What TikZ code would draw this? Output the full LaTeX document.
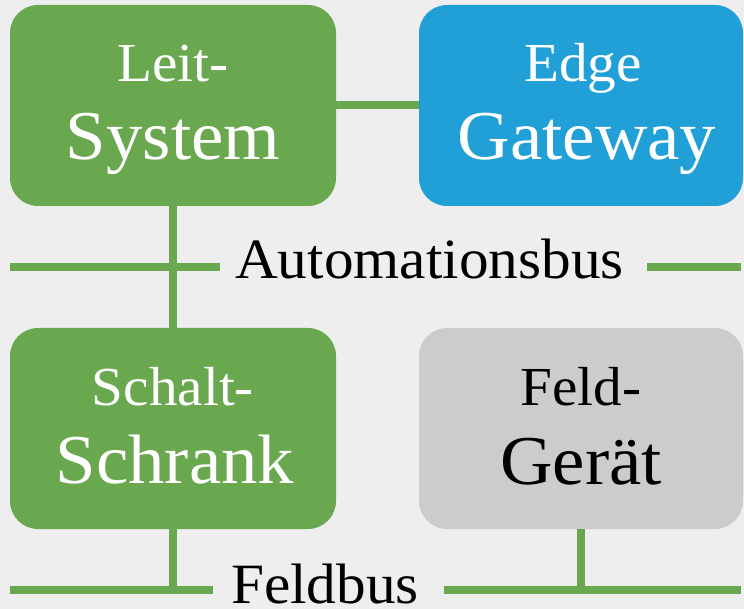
\documentclass[tikz,border=0pt]{standalone}
\usepackage{fontspec}
\setmainfont[FakeStretch=1.04]{Liberation Serif}
\definecolor{bg}{HTML}{EEEEEE}
\definecolor{grn}{HTML}{6AA84F}
\definecolor{blu}{HTML}{21A0D8}
\definecolor{gry}{HTML}{CCCCCC}
\tikzset{
  boxnode/.style={rounded corners=28pt, minimum width=326pt, minimum height=201pt, inner sep=0pt, draw=none},
  busline/.style={draw=grn, line width=8pt},
  toptext/.style={anchor=base, font=\fontsize{55}{55}\selectfont, inner sep=0pt},
  bigtext/.style={anchor=base, font=\fontsize{70}{70}\selectfont, inner sep=0pt},
  bustext/.style={anchor=base, font=\fontsize{57}{57}\selectfont, inner sep=0pt, text=black}
}
\begin{document}
\begin{tikzpicture}[x=1pt,y=-1pt]
\fill[bg] (0,0) rectangle (744,609);
\useasboundingbox (0,0) rectangle (744,609);
% boxes
\node[boxnode, fill=grn] (b1) at (173,105.5) {};
\node[boxnode, fill=blu, minimum width=324pt] (b2) at (581,105.5) {};
\node[boxnode, fill=grn] (b3) at (173,428.5) {};
\node[boxnode, fill=gry, minimum width=324pt] (b4) at (581,428.5) {};
% bus coordinates
\coordinate (abL) at (10,267);
\coordinate (abM) at (220,267);
\coordinate (abN) at (647,267);
\coordinate (abR) at (741,267);
\coordinate (fbL) at (10,590);
\coordinate (fbM) at (213,590);
\coordinate (fbN) at (444,590);
\coordinate (fbR) at (741,590);
\coordinate (fb1) at (173,590);
\coordinate (fb2) at (581,590);
% connectors
\draw[busline] (b1.east) -- (b2.west);
\draw[busline] (b1.south) -- (b3.north);
\draw[busline] (abL) -- (abM);
\draw[busline] (abN) -- (abR);
\draw[busline] (fbL) -- (fbM);
\draw[busline] (fbN) -- (fbR);
\draw[busline] (b3.south) -- (fb1);
\draw[busline] (b4.south) -- (fb2);
% texts
\node[toptext, text=white] (t1a) at (173,82) {Leit-};
\node[bigtext, text=white] (t1b) at (173,160) {System};
\node[toptext, text=white] (t2a) at (583,82) {Edge};
\node[bigtext, text=white] (t2b) at (587,160) {Gateway};
\node[toptext, text=white] (t3a) at (173,405) {Schalt-};
\node[bigtext, text=white] (t3b) at (175,483) {Schrank};
\node[toptext, text=black] (t4a) at (581,405) {Feld-};
\node[bigtext, text=black] (t4b) at (581,484) {Gerät};
\node[bustext] (ab) at (429.5,279) {Automationsbus};
\node[bustext] (fb) at (325,603) {Feldbus};
\end{tikzpicture}
\end{document}
